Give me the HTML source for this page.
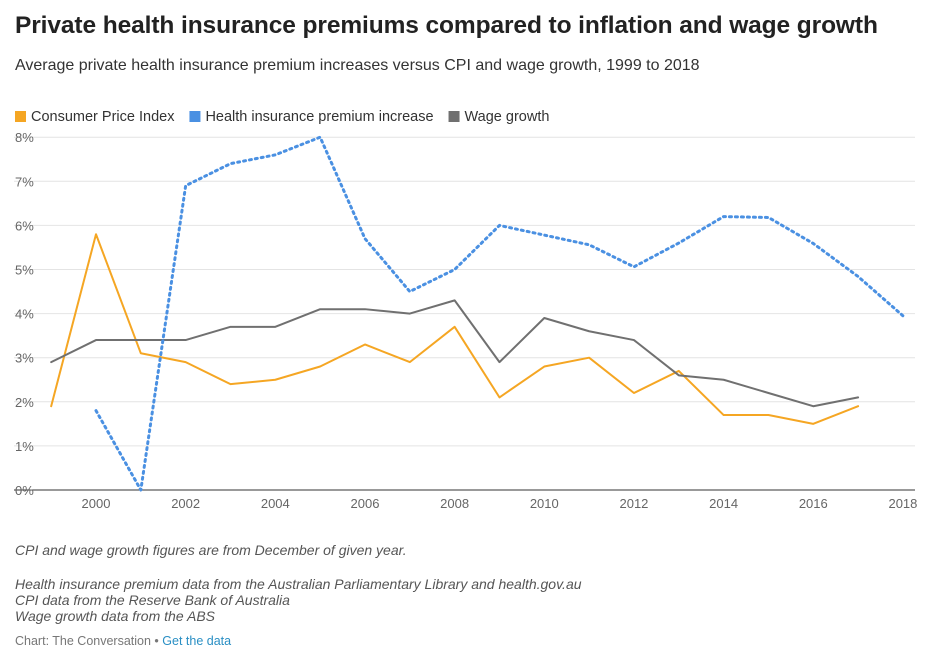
<!DOCTYPE html>
<html><head><meta charset="utf-8"><style>
body{margin:0;background:#fff;font-family:"Liberation Sans",sans-serif;}
#wrap{position:relative;width:934px;height:669px;overflow:hidden;}
h1{position:absolute;left:15px;top:12px;margin:0;font-size:24.5px;font-weight:bold;color:#222;letter-spacing:-0.1px;}
.sub{position:absolute;left:15px;top:57px;font-size:16px;color:#333;}
.note{position:absolute;left:15px;font-size:14px;font-style:italic;color:#555;}
.foot{position:absolute;left:15px;top:634px;font-size:12.5px;color:#777;}
.foot a{color:#2a8fc4;text-decoration:none;}
</style></head><body><div id="wrap">
<h1>Private health insurance premiums compared to inflation and wage growth</h1>
<div class="sub">Average private health insurance premium increases versus CPI and wage growth, 1999 to 2018</div>
<svg id="chart" width="934" height="669" style="position:absolute;left:0;top:0"></svg>
<div class="note" style="top:542px">CPI and wage growth figures are from December of given year.</div>
<div class="note" style="top:576px;line-height:16px">Health insurance premium data from the Australian Parliamentary Library and health.gov.au<br>CPI data from the Reserve Bank of Australia<br>Wage growth data from the ABS</div>
<div class="foot">Chart: The Conversation • <a>Get the data</a></div>
</div>
<script>
const years=[1999,2000,2001,2002,2003,2004,2005,2006,2007,2008,2009,2010,2011,2012,2013,2014,2015,2016,2017,2018];
const cpi=[1.9,5.8,3.1,2.9,2.4,2.5,2.8,3.3,2.9,3.7,2.1,2.8,3.0,2.2,2.7,1.7,1.7,1.5,1.9,null];
const wage=[2.9,3.4,3.4,3.4,3.7,3.7,4.1,4.1,4.0,4.3,2.9,3.9,3.6,3.4,2.6,2.5,2.2,1.9,2.1,null];
const health=[null,1.8,0,6.9,7.4,7.6,8.0,5.7,4.5,5.0,6.0,5.78,5.56,5.06,5.6,6.2,6.18,5.59,4.84,3.95];
const yTicks=[0,1,2,3,4,5,6,7,8];
const xTicks=[2000,2002,2004,2006,2008,2010,2012,2014,2016,2018];
const legendItems=[["Consumer Price Index","#f5a623"],["Health insurance premium increase","#4a90e2"],["Wage growth","#707070"]];
const svg=document.getElementById('chart');const NS='http://www.w3.org/2000/svg';
const x=v=>96+(v-2000)*44.83;const y=v=>490-v*44.1;
function mk(t,a){const e=document.createElementNS(NS,t);for(const k in a)e.setAttribute(k,a[k]);svg.appendChild(e);return e;}
yTicks.forEach(t=>{const g=mk('line',{x1:14,x2:915,y1:y(t),y2:y(t),stroke:t===0?'#333':'#e4e4e4','stroke-width':1});

const l=mk('text',{x:15,y:y(t)+5,'font-size':13,fill:'#666'});l.textContent=t+'%';
});
xTicks.forEach(t=>{const l=mk('text',{x:x(t),y:508,'font-size':13,fill:'#666','text-anchor':'middle'});l.textContent=t;
});
function series(vals,color,name,dash){let d='',pen=false;vals.forEach((v,i)=>{if(v===null){pen=false;return;}d+=(pen?'L':'M')+x(years[i])+','+y(v);pen=true;});
const p=mk('path',{d:d,fill:'none',stroke:color,'stroke-width':dash?3:2,'stroke-dasharray':dash?'2,4':'none','stroke-linecap':'round','stroke-linejoin':'round'});
}
series(cpi,'#f5a623','cpi-line',false);series(wage,'#707070','wage-growth-line',false);series(health,'#4a90e2','health-premium-line',true);
let lx=15;legendItems.forEach(([t,c])=>{const r=mk('rect',{x:lx,y:111,width:11,height:11,fill:c});

const tx=mk('text',{x:lx+16,y:121,'font-size':14.5,fill:'#333'});tx.textContent=t;

lx+=16+tx.getComputedTextLength()+15;});
</script></body></html>
